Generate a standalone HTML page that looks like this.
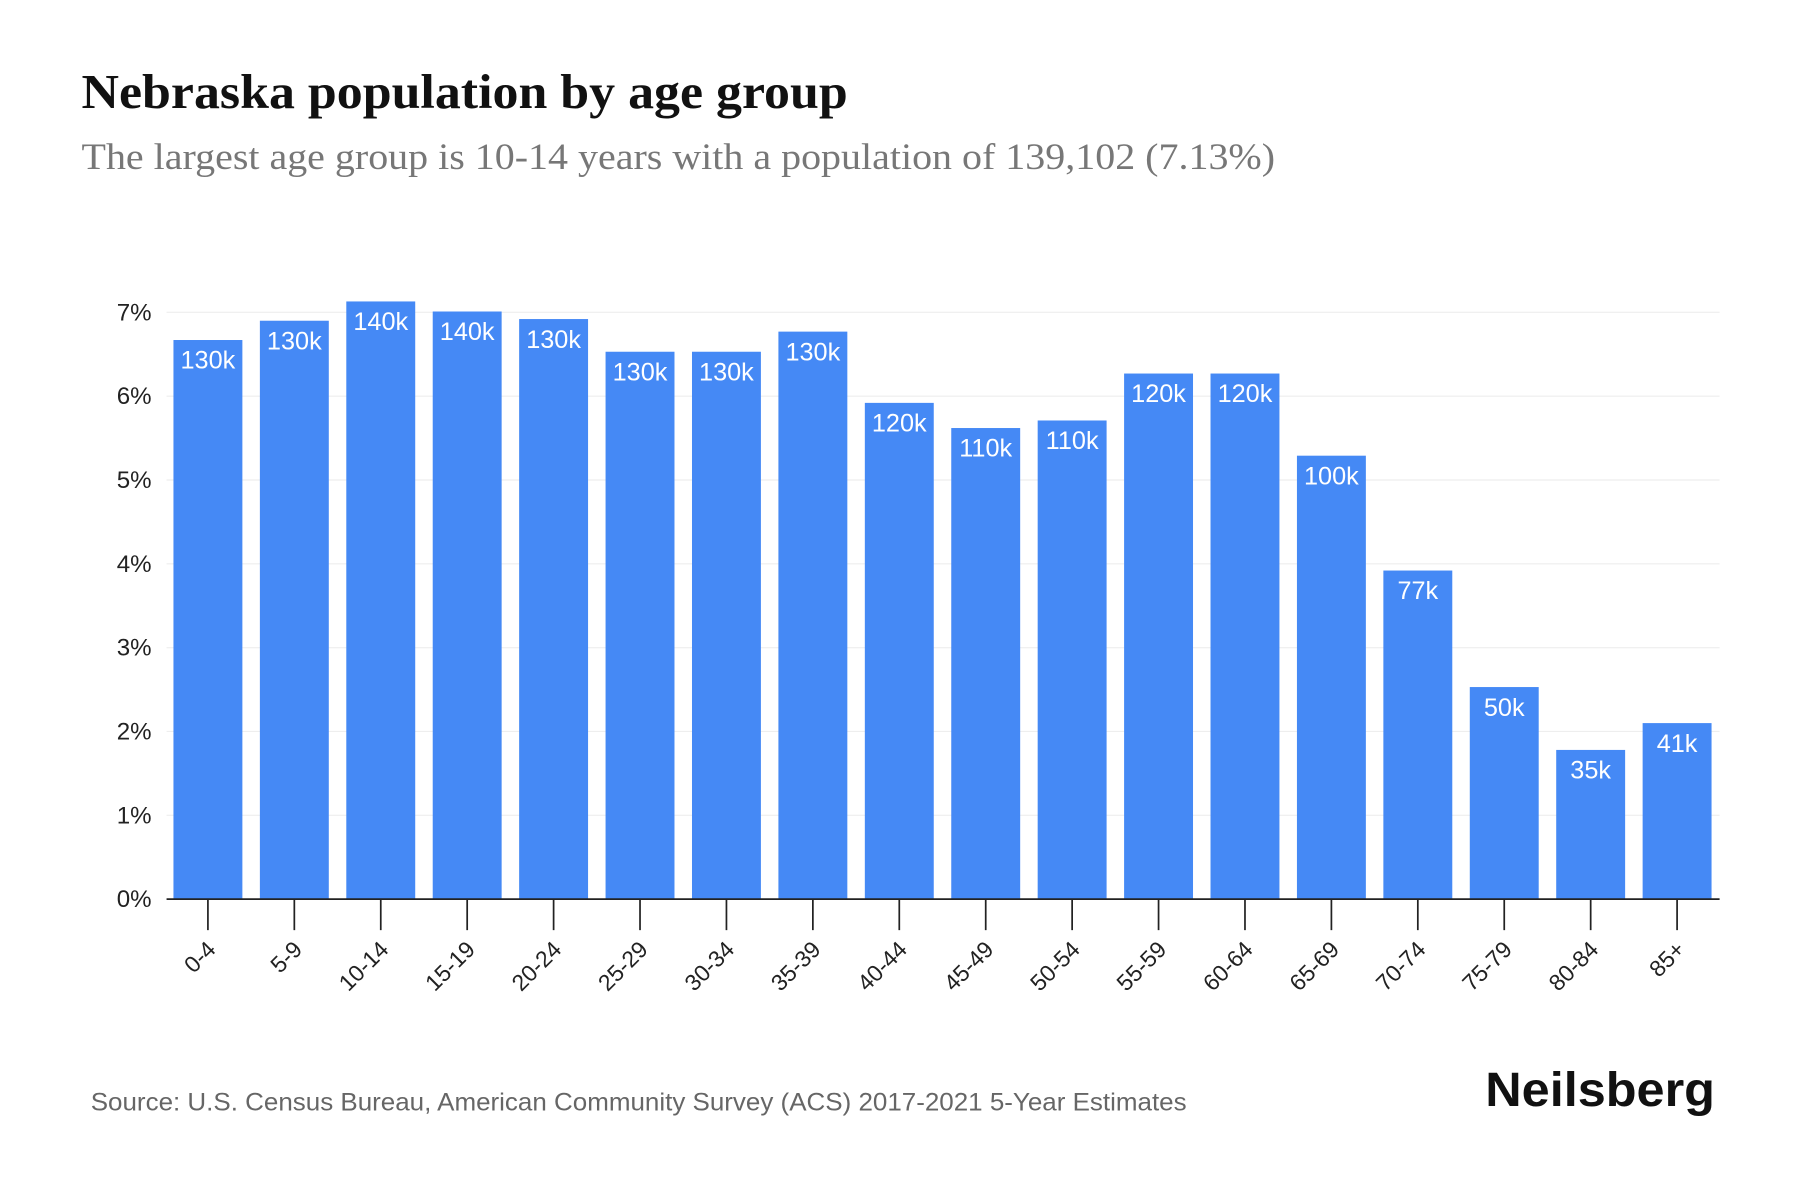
<!DOCTYPE html>
<html><head><meta charset="utf-8"><style>
html,body{margin:0;padding:0;background:#fff;}
svg{display:block;}
</style></head><body>
<svg id="chart" width="1800" height="1200" viewBox="0 0 1567 1045" preserveAspectRatio="none" xmlns="http://www.w3.org/2000/svg">
<text x="71" y="94" font-family="Liberation Serif, serif" font-weight="bold" font-size="42" fill="#111" textLength="667" lengthAdjust="spacingAndGlyphs">Nebraska population by age group</text>
<text x="71" y="147" font-family="Liberation Serif, serif" font-size="32" fill="#777" textLength="1039" lengthAdjust="spacingAndGlyphs">The largest age group is 10-14 years with a population of 139,102 (7.13%)</text>
<g id="grid"></g>
<g id="bars"></g>
<g id="xaxis"></g>
<text x="79" y="967" font-family="Liberation Sans, sans-serif" font-size="22" fill="#666" textLength="954" lengthAdjust="spacingAndGlyphs">Source: U.S. Census Bureau, American Community Survey (ACS) 2017-2021 5-Year Estimates</text>
<text x="1493" y="963" text-anchor="end" font-family="Liberation Sans, sans-serif" font-weight="bold" font-size="42" fill="#111" textLength="200" lengthAdjust="spacingAndGlyphs">Neilsberg</text>
</svg>
<script>
const categories=["0-4","5-9","10-14","15-19","20-24","25-29","30-34","35-39","40-44","45-49","50-54","55-59","60-64","65-69","70-74","75-79","80-84","85+"];
const percents=[6.67,6.90,7.13,7.01,6.92,6.53,6.53,6.77,5.92,5.62,5.71,6.27,6.27,5.29,3.92,2.53,1.78,2.10];
const valueLabels=["130k","130k","140k","140k","130k","130k","130k","130k","120k","110k","110k","120k","120k","100k","77k","50k","35k","41k"];
const yTicks=[0,1,2,3,4,5,6,7];
const NS="http://www.w3.org/2000/svg";
const x0=145,x1=1497,y0=783,pxPer=73;
const firstC=181,lastC=1460;
const step=(lastC-firstC)/(categories.length-1);
const bw=60;
const y=v=>y0-v*pxPer;
const xc=i=>firstC+step*i;
function mk(t,a,p){const e=document.createElementNS(NS,t);for(const k in a)e.setAttribute(k,a[k]);p.appendChild(e);return e;}
const grid=document.getElementById('grid'),bars=document.getElementById('bars'),xa=document.getElementById('xaxis');
yTicks.forEach(t=>{
  if(t>0){const l=mk('line',{x1:x0,x2:x1,y1:y(t),y2:y(t),stroke:'#eee','stroke-width':1},grid);
  
  }
  const tx=mk('text',{x:132,y:y(t)+7,'text-anchor':'end','font-family':'Liberation Sans, sans-serif','font-size':21,fill:'#222'},grid);
  tx.textContent=t+'%';
  
  
});
categories.forEach((c,i)=>{
  const cx=xc(i);
  const r=mk('rect',{x:cx-bw/2,y:y(percents[i]),width:bw,height:percents[i]*pxPer,fill:'#4589f5'},bars);
  
  
  const vl=mk('text',{x:cx,y:y(percents[i])+25,'text-anchor':'middle','font-family':'Liberation Sans, sans-serif','font-size':22,fill:'#fff'},bars);
  vl.textContent=valueLabels[i];
  
  
  const tk=mk('line',{x1:cx,x2:cx,y1:y0,y2:y0+27,stroke:'#222','stroke-width':1.5},xa);
  
  
  const tl=mk('text',{x:cx+8,y:y0+45,'text-anchor':'end','font-family':'Liberation Sans, sans-serif','font-size':20,fill:'#222',transform:`rotate(-45 ${cx+8} ${y0+45})`},xa);
  tl.textContent=c;
  
  
});
const ax=mk('line',{x1:x0,x2:x1,y1:y0,y2:y0,stroke:'#222','stroke-width':1.5},xa);


</script>
</body></html>
